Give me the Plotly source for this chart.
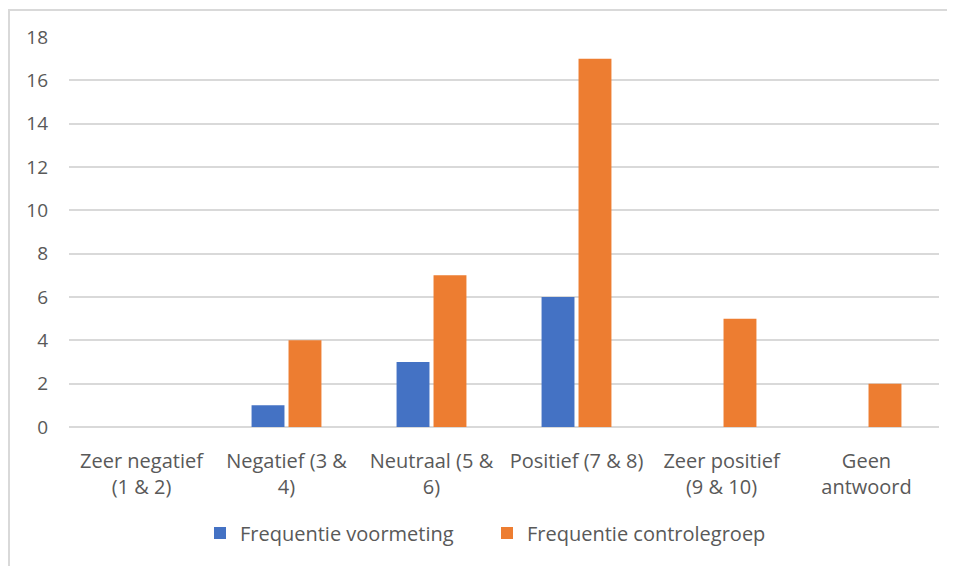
import plotly.graph_objects as go

categories = ["Zeer negatief<br>(1 & 2)", "Negatief (3 &<br>4)", "Neutraal (5 &<br>6)",
              "Positief (7 & 8)", "Zeer positief<br>(9 & 10)", "Geen<br>antwoord"]
voormeting = [0, 1, 3, 6, 0, 0]
controlegroep = [0, 4, 7, 17, 5, 2]
y_ticks = [0, 2, 4, 6, 8, 10, 12, 14, 16, 18]

FONT = "'Open Sans', Lato, sans-serif"
TXT = "#595959"
GRID = "#D9D9D9"

fig = go.Figure()
fig.add_trace(go.Bar(x=categories, y=voormeting, name="Frequentie voormeting",
                     marker=dict(color="#4472C4", line=dict(width=0))))
fig.add_trace(go.Bar(x=categories, y=controlegroep, name="Frequentie controlegroep",
                     marker=dict(color="#ED7D31", line=dict(width=0))))

OFF = 8  # page body offset
W, H = 955 - OFF, 566 - OFF
L, R, T, B = 69 - OFF, 16, 37 - OFF, 566 - 427
pw, ph = W - L - R, H - T - B

def px(x):
    return (x - OFF - L) / pw

def py(y):
    return (H - B - (y - OFF)) / ph

fig.update_layout(
    width=W, height=H,
    margin=dict(l=L, r=R, t=T, b=B),
    paper_bgcolor="white", plot_bgcolor="white",
    barmode="group", bargap=0.49, bargroupgap=0.11,
    font=dict(family=FONT, size=20, color=TXT),
    legend=dict(orientation="h", x=px(200), xanchor="left", y=py(533), yanchor="middle",
                font=dict(size=20, color=TXT), itemwidth=30, traceorder="normal",
                entrywidth=242, entrywidthmode="pixels"),
    xaxis=dict(showgrid=False, showline=False, ticks="", tickfont=dict(size=20, color=TXT),
               ticklabelstandoff=20),
    yaxis=dict(range=[0, 18], tickvals=y_ticks, showgrid=True, gridcolor=GRID, gridwidth=1.5,
               zeroline=True, zerolinecolor=GRID, zerolinewidth=1.5, showline=False,
               ticks="", tickfont=dict(size=19, color=TXT), ticklabelstandoff=20),
    shapes=[
        dict(type="line", xref="paper", yref="paper", x0=px(8), x1=px(955), y0=py(10), y1=py(10),
             line=dict(color=GRID, width=2)),
        dict(type="line", xref="paper", yref="paper", x0=px(9), x1=px(9), y0=py(10), y1=py(566),
             line=dict(color=GRID, width=2)),
    ],
)

fig.write_html("out.html")
